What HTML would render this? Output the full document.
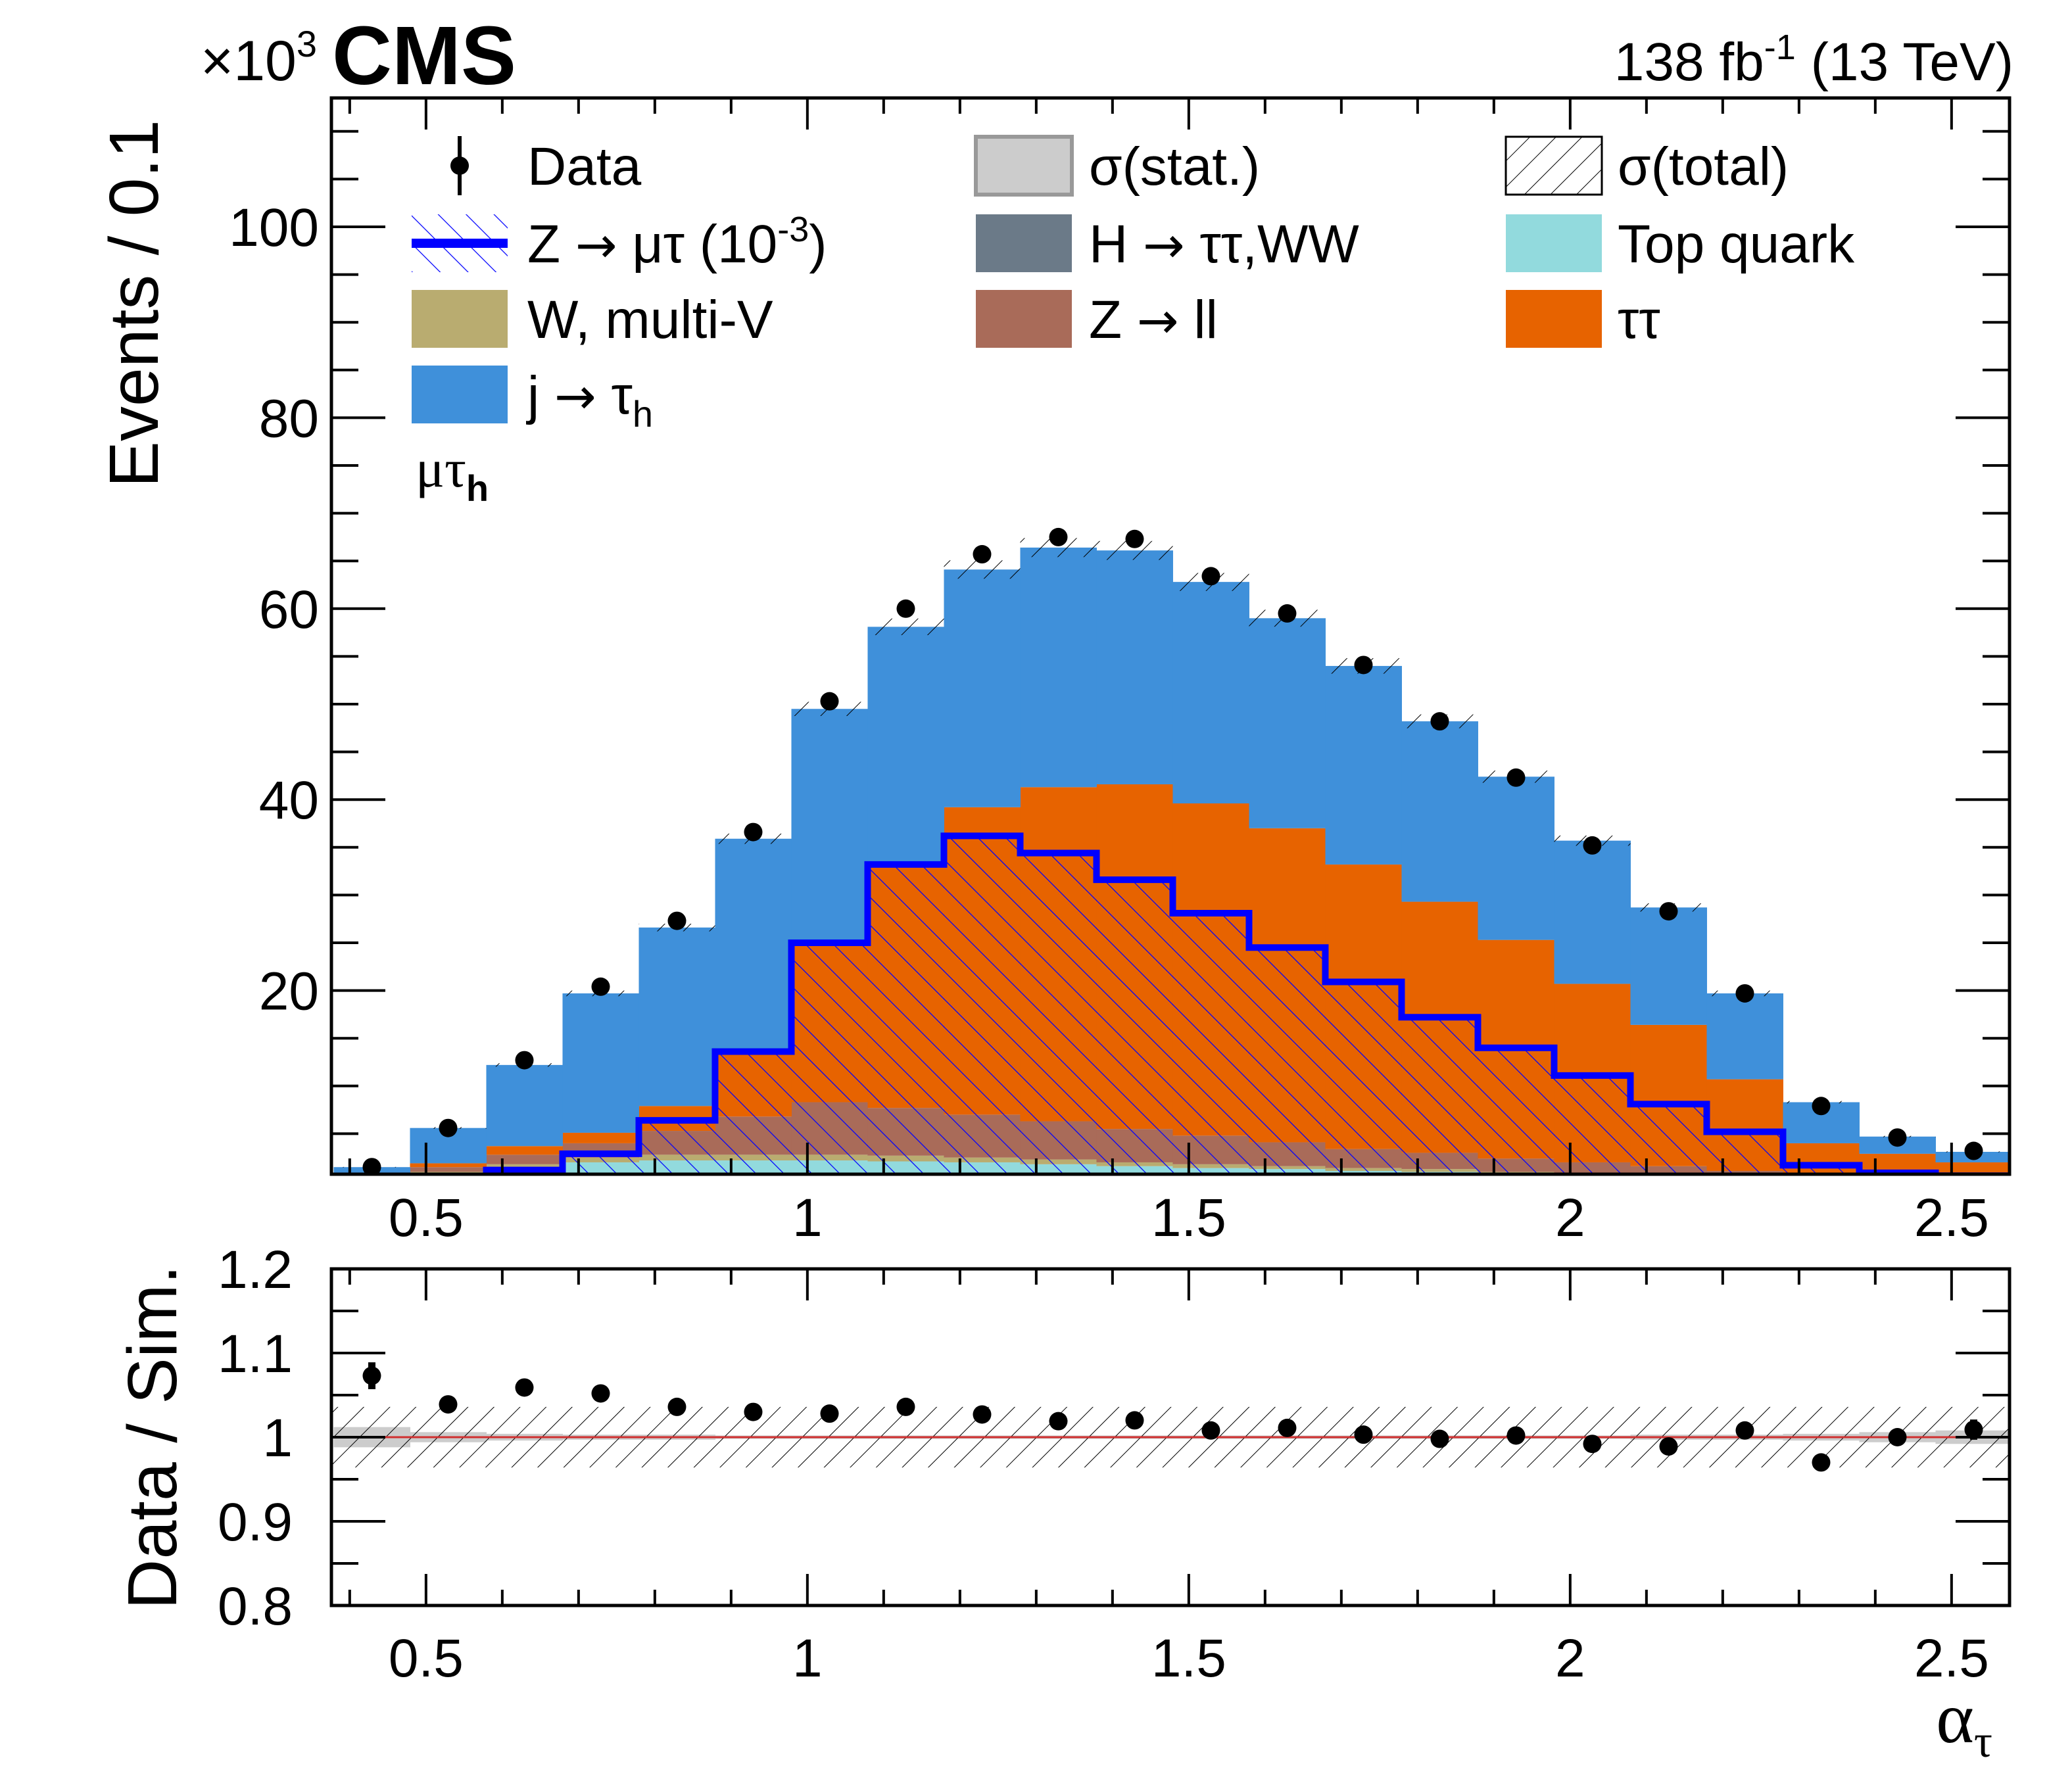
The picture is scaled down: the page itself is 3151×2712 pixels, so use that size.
<!DOCTYPE html>
<html><head><meta charset="utf-8"><style>
html,body{margin:0;padding:0;background:#fff}
svg{display:block;font-family:"Liberation Sans",sans-serif}
</style></head><body>
<svg id="chart" width="3151" height="2712" viewBox="0 0 3151 2712" xmlns="http://www.w3.org/2000/svg">
<defs>
<pattern id="sigHatch" patternUnits="userSpaceOnUse" width="30" height="30" patternTransform="rotate(-45)"><line x1="0" y1="0" x2="0" y2="30" stroke="#0000ff" stroke-width="2.5"/></pattern>
<pattern id="totHatch" patternUnits="userSpaceOnUse" width="28" height="28" patternTransform="rotate(45)"><line x1="0" y1="0" x2="0" y2="28" stroke="#000" stroke-width="2"/></pattern>
<clipPath id="mainClip"><rect x="504" y="149" width="2552" height="1637"/></clipPath>
<clipPath id="ratioClip"><rect x="504" y="1930" width="2552" height="512"/></clipPath>
</defs>
<g id="main" clip-path="url(#mainClip)"></g>
<g id="ratio" clip-path="url(#ratioClip)"></g>
<g id="axes"></g>
<g id="legend"></g>
<g fill="#000">
<text x="505" y="128" font-size="126" font-weight="bold">CMS</text>
<text x="305" y="122" font-size="86">×10<tspan font-size="56" dy="-36">3</tspan></text>
<text x="3062" y="122" font-size="82" text-anchor="end">138 fb<tspan font-size="54" dy="-32">-1</tspan><tspan dy="32"> (13 TeV)</tspan></text>
<text transform="translate(240,182) rotate(-90)" font-size="106" text-anchor="end">Events / 0.1</text>
<text transform="translate(268,2186) rotate(-90)" font-size="106" text-anchor="middle">Data / Sim.</text>
<text x="3030" y="2650" font-size="110" text-anchor="end" font-family="Liberation Serif,serif">α<tspan font-size="70" dy="22">τ</tspan></text>
<text x="632" y="740" font-size="82" font-family="Liberation Serif,serif">μτ<tspan font-size="56" dy="22" font-weight="bold" font-family="Liberation Sans,sans-serif">h</tspan></text>
</g>
</svg>
<script>
const binLow = 0.379;
const binWidth = 0.1;
const dataVals = [1.5,5.6,12.7,20.4,27.3,36.6,50.3,60.0,65.7,67.5,67.3,63.4,59.5,54.1,48.2,42.3,35.2,28.3,19.7,7.9,4.6,3.2];
const higgsVals = [0.1,0.2,0.3,0.4,0.4,0.4,0.4,0.4,0.4,0.4,0.3,0.3,0.3,0.2,0.2,0.2,0.2,0.1,0.1,0.1,0.05,0.05];
const topVals = [0.3,0.6,1.2,1.6,1.8,1.8,1.8,1.7,1.6,1.4,1.3,1.1,1.0,0.9,0.8,0.6,0.5,0.4,0.3,0.2,0.1,0.1];
const wVals = [0.1,0.2,0.3,0.5,0.6,0.6,0.6,0.6,0.5,0.5,0.4,0.4,0.3,0.3,0.3,0.2,0.2,0.2,0.1,0.1,0.05,0.05];
const zllVals = [0.2,0.5,1.0,1.5,2.5,4.0,5.5,5.0,4.5,4.0,3.5,3.0,2.5,2.0,1.7,1.4,1.1,0.9,0.6,0.3,0.2,0.1];
const tautauVals = [0.2,0.4,0.9,1.1,2.6,7.0,16.9,25.5,32.2,35.0,36.1,34.8,32.9,29.8,26.3,22.9,18.7,14.8,9.6,3.3,2.5,1.7];
const fakeVals = [0.6,3.7,8.5,14.6,18.7,22.1,24.3,24.9,24.9,25.1,24.5,23.2,22.0,20.8,18.9,17.1,15.0,12.3,9.0,4.3,1.8,1.1];
const signalVals = [0.5,0.5,1.2,2.9,6.4,13.6,25.0,33.2,36.2,34.4,31.6,28.1,24.5,20.9,17.2,14.0,11.1,8.1,5.2,1.7,0.9,0.6];
const ratioVals = [1.073,1.039,1.059,1.052,1.036,1.030,1.028,1.036,1.027,1.019,1.020,1.008,1.011,1.003,0.998,1.002,0.992,0.989,1.008,0.970,1.000,1.009];
const ratioErr = [0.016,0.007,0.005,0.004,0.004,0.003,0.003,0.003,0.003,0.003,0.003,0.003,0.003,0.003,0.003,0.003,0.003,0.004,0.005,0.007,0.01,0.012];
const totalUnc = 0.036;
const statUnc = [0.012,0.006,0.004,0.003,0.003,0.002,0.002,0.002,0.002,0.002,0.002,0.002,0.002,0.002,0.002,0.002,0.002,0.003,0.003,0.004,0.006,0.008];
const yTickLabels = ["20","40","60","80","100"];
const ratioTickLabels = ["0.8","0.9","1","1.1","1.2"];
const xTickLabels = ["0.5","1","1.5","2","2.5"];

const NS = "http://www.w3.org/2000/svg";
const X0 = 504, X1 = 3056, XMIN = 0.376, XMAX = 2.576;
const xs = v => X0 + (v - XMIN) / (XMAX - XMIN) * (X1 - X0);
const ys = v => 1797 - v * 14.52;
const yr = v => 2186 - (v - 1) * 1280;
function mk(tag, attrs, parent) {
  const e = document.createElementNS(NS, tag);
  for (const k in attrs) e.setAttribute(k, attrs[k]);
  parent.appendChild(e);
  return e;
}
const main = document.getElementById('main');
const ratio = document.getElementById('ratio');
const axes = document.getElementById('axes');
const legend = document.getElementById('legend');

const layers = [
  {vals: higgsVals, color: '#6b7a88', name: 'higgs'},
  {vals: topVals, color: '#92dadd', name: 'top-quark'},
  {vals: wVals, color: '#b9ac70', name: 'w-multi-v'},
  {vals: zllVals, color: '#a96b59', name: 'z-ll'},
  {vals: tautauVals, color: '#e76300', name: 'tautau'},
  {vals: fakeVals, color: '#3f90da', name: 'jet-fakes'}
];
const n = dataVals.length;
const base = new Array(n).fill(0);
layers.forEach(L => {
  for (let i = 0; i < n; i++) {
    const lo = binLow + i * binWidth, hi = lo + binWidth;
    const b = base[i], t = b + L.vals[i];
    const r = mk('rect', {x: xs(lo), y: ys(t), width: xs(hi) - xs(lo) + 0.5, height: ys(b) - ys(t), fill: L.color}, main);
    
    
    base[i] = t;
  }
});
for (let i = 0; i < n; i++) {
  const lo = binLow + i * binWidth, hi = lo + binWidth;
  const t = base[i];
  const r = mk('rect', {x: xs(lo), y: ys(t * 1.015), width: xs(hi) - xs(lo), height: ys(t * 0.985) - ys(t * 1.015), fill: 'url(#totHatch)'}, main);
  
  
}
let d = '';
for (let i = 0; i < n; i++) {
  const lo = binLow + i * binWidth, hi = lo + binWidth;
  const y = ys(signalVals[i]);
  d += (i === 0 ? 'M' : 'L') + xs(lo) + ',' + y + 'L' + xs(hi) + ',' + y;
  const r = mk('rect', {x: xs(lo), y: y, width: xs(hi) - xs(lo) + 0.5, height: ys(0) - y, fill: 'url(#sigHatch)'}, main);
  
  
}
const sl = mk('path', {d: d, fill: 'none', stroke: '#0000ff', 'stroke-width': 10}, main);


for (let i = 0; i < n; i++) {
  const cx = xs(binLow + (i + 0.5) * binWidth);
  const c = mk('circle', {cx: cx, cy: ys(dataVals[i]), r: 14, fill: '#000'}, main);
  
  
}
for (let i = 0; i < n; i++) {
  const lo = binLow + i * binWidth, hi = lo + binWidth;
  const s = mk('rect', {x: xs(lo), y: yr(1 + statUnc[i]), width: xs(hi) - xs(lo) + 0.5, height: yr(1 - statUnc[i]) - yr(1 + statUnc[i]), fill: '#cccccc'}, ratio);
  
  
}
const tb = mk('rect', {x: X0, y: yr(1 + totalUnc), width: X1 - X0, height: yr(1 - totalUnc) - yr(1 + totalUnc), fill: 'url(#totHatch)'}, ratio);


const ul = mk('line', {x1: X0, x2: X1, y1: yr(1), y2: yr(1), stroke: '#d03030', 'stroke-width': 3}, ratio);


for (let i = 0; i < n; i++) {
  const cx = xs(binLow + (i + 0.5) * binWidth);
  const e = mk('line', {x1: cx, x2: cx, y1: yr(ratioVals[i] + ratioErr[i]), y2: yr(ratioVals[i] - ratioErr[i]), stroke: '#000', 'stroke-width': 11}, ratio);
  
  
  const c = mk('circle', {cx: cx, cy: yr(ratioVals[i]), r: 14, fill: '#000'}, ratio);
  
  
}
[[149, 1786, 'main-frame'], [1930, 2442, 'ratio-frame']].forEach(f => {
  const r = mk('rect', {x: X0, y: f[0], width: X1 - X0, height: f[1] - f[0], fill: 'none', stroke: '#000', 'stroke-width': 5}, axes);
  
  
});
function xTicks(top, bot, labelY, tag) {
  for (let k = 4; k <= 25; k++) {
    const vv = k / 10;
    const major = k % 5 === 0;
    const len = major ? 48 : 24;
    const x = xs(vv);
    mk('line', {x1: x, x2: x, y1: bot, y2: bot - len, stroke: '#000', 'stroke-width': 4}, axes);
    mk('line', {x1: x, x2: x, y1: top, y2: top + len, stroke: '#000', 'stroke-width': 4}, axes);
  }
  xTickLabels.forEach(l => {
    const t = mk('text', {x: xs(parseFloat(l)), y: labelY, 'font-size': 82, 'text-anchor': 'middle'}, axes);
    t.textContent = l;
    
    
  });
}
xTicks(149, 1786, 1880, 'main');
xTicks(1930, 2442, 2550, 'ratio');
for (let v = 5; v <= 110; v += 5) {
  const major = v % 20 === 0;
  const len = major ? 82 : 41;
  const y = ys(v);
  mk('line', {x1: X0, x2: X0 + len, y1: y, y2: y, stroke: '#000', 'stroke-width': 4}, axes);
  mk('line', {x1: X1, x2: X1 - len, y1: y, y2: y, stroke: '#000', 'stroke-width': 4}, axes);
}
yTickLabels.forEach(l => {
  const t = mk('text', {x: 485, y: ys(parseFloat(l)) + 29, 'font-size': 82, 'text-anchor': 'end'}, axes);
  t.textContent = l;
  
  
});
for (let k = 16; k <= 24; k++) {
  const v = k * 0.05;
  const major = k % 2 === 0;
  const len = major ? 82 : 41;
  const y = yr(v);
  mk('line', {x1: X0, x2: X0 + len, y1: y, y2: y, stroke: '#000', 'stroke-width': 4}, axes);
  mk('line', {x1: X1, x2: X1 - len, y1: y, y2: y, stroke: '#000', 'stroke-width': 4}, axes);
}
ratioTickLabels.forEach(l => {
  const t = mk('text', {x: 445, y: yr(parseFloat(l)) + 29, 'font-size': 82, 'text-anchor': 'end'}, axes);
  t.textContent = l;
  
  
});
const arrow = '<tspan font-family="DejaVu Sans,sans-serif" font-size="76">→</tspan>';
const legendEntries = [
  {col: 0, row: 0, label: 'Data', type: 'data'},
  {col: 1, row: 0, label: 'σ(stat.)', type: 'box', color: '#cccccc', stroke: '#999'},
  {col: 2, row: 0, label: 'σ(total)', type: 'hatch'},
  {col: 0, row: 1, label: 'Z ' + arrow + ' μτ (10<tspan font-size="54" dy="-32">-3</tspan><tspan dy="32">)</tspan>', type: 'signal'},
  {col: 1, row: 1, label: 'H ' + arrow + ' ττ,WW', type: 'box', color: '#6b7a88'},
  {col: 2, row: 1, label: 'Top quark', type: 'box', color: '#92dadd'},
  {col: 0, row: 2, label: 'W, multi-V', type: 'box', color: '#b9ac70'},
  {col: 1, row: 2, label: 'Z ' + arrow + ' ll', type: 'box', color: '#a96b59'},
  {col: 2, row: 2, label: 'ττ', type: 'box', color: '#e76300'},
  {col: 0, row: 3, label: 'j ' + arrow + ' τ<tspan font-size="56" dy="20">h</tspan>', type: 'box', color: '#3f90da'}
];
const colBox = [626, 1484, 2290];
const colText = [802, 1656, 2460];
const rowY = [252, 370, 485, 600];
legendEntries.forEach(e => {
  const g = mk('g', {}, legend);
  
  
  const bx = colBox[e.col], cy = rowY[e.row];
  if (e.type === 'data') {
    mk('line', {x1: bx + 73, x2: bx + 73, y1: cy - 45, y2: cy + 45, stroke: '#000', 'stroke-width': 6}, g);
    mk('circle', {cx: bx + 73, cy: cy, r: 14, fill: '#000'}, g);
  } else if (e.type === 'box') {
    mk('rect', {x: bx, y: cy - 44, width: 146, height: 88, fill: e.color, stroke: e.stroke || 'none', 'stroke-width': 6}, g);
  } else if (e.type === 'hatch') {
    mk('rect', {x: bx, y: cy - 44, width: 146, height: 88, fill: 'url(#totHatch)', stroke: '#000', 'stroke-width': 3}, g);
  } else if (e.type === 'signal') {
    mk('rect', {x: bx, y: cy - 44, width: 146, height: 88, fill: 'url(#sigHatch)'}, g);
    mk('rect', {x: bx, y: cy - 7, width: 146, height: 14, fill: '#0000ff'}, g);
  }
  const t = mk('text', {x: colText[e.col], y: cy + 29, 'font-size': 82}, g);
  t.innerHTML = e.label;
});
</script>
</body></html>
